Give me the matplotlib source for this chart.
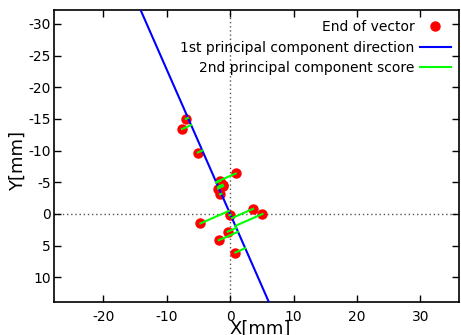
import numpy as np
import matplotlib
matplotlib.use("Agg")
import matplotlib.pyplot as plt

plt.rcParams["axes.unicode_minus"] = False

# end points of the vectors [mm]
pts_x = [-7.0, -7.6, -5.1, 0.9, -1.6, -1.9, -1.1, -1.2, -1.6, -0.1, 3.6, 5.1, -4.7, -0.4, -1.8, 0.8]
pts_y = [-15.0, -13.4, -9.7, -6.4, -5.2, -4.0, -4.4, -4.6, -3.1, 0.2, -0.8, 0.0, 1.5, 2.8, 4.15, 6.1]

# 1st principal component direction (unit vector, through origin)
dir_x, dir_y = 0.402, 0.916

xticks = [-20, -10, 0, 10, 20, 30]
yticks = [-30, -25, -20, -15, -10, -5, 0, 5, 10]

px = np.array(pts_x)
py = np.array(pts_y)
u = np.array([dir_x, dir_y]) / np.hypot(dir_x, dir_y)

fig = plt.figure(figsize=(4.61, 3.35), dpi=100)
ax = fig.add_axes([0.117, 0.0985, 0.8787, 0.8717])

# zero axes
ax.axhline(0, color="#555555", ls=(0, (1, 2)), lw=1, zorder=0)
ax.axvline(0, color="#555555", ls=(0, (1, 2)), lw=1, zorder=0)

ax.plot(px, py, "o", color="#ff0000", ms=6.5, mec="#ff0000", zorder=2, label="End of vector")

t = np.array([-60, 60])
ax.plot(t * u[0], t * u[1], color="#0000ff", lw=1.5, zorder=3, label="1st principal component direction")

# score lines: from each point to its projection on the 1st component
proj = px * u[0] + py * u[1]
for i in range(len(px)):
    ax.plot([px[i], proj[i] * u[0]], [py[i], proj[i] * u[1]], color="#00ff00", lw=1.5, zorder=4,
            label="2nd principal component score" if i == 0 else None)

ax.set_xlim(-27.8, 36.1)
ax.set_ylim(13.9, -32.2)
ax.set_xticks(xticks)
ax.set_yticks(yticks)
ax.tick_params(direction="in", length=5, width=1, top=True, right=True, labelsize=10)
ax.tick_params(axis="x", pad=5.5)
ax.tick_params(axis="y", pad=2.2)
for s in ax.spines.values():
    s.set_linewidth(1.2)

ax.set_xlabel("X[mm]", fontsize=13)
ax.xaxis.set_label_coords(0.51, -0.062)
ax.set_ylabel("Y[mm]", fontsize=13)
ax.yaxis.set_label_coords(-0.067, 0.483)

ax.legend(loc="upper right", markerfirst=False, frameon=False, fontsize=10,
          handlelength=2.2, handletextpad=0.4, labelspacing=0.45,
          borderaxespad=0.2, bbox_to_anchor=(1.0, 0.993))

fig.savefig("out.png", dpi=100)
